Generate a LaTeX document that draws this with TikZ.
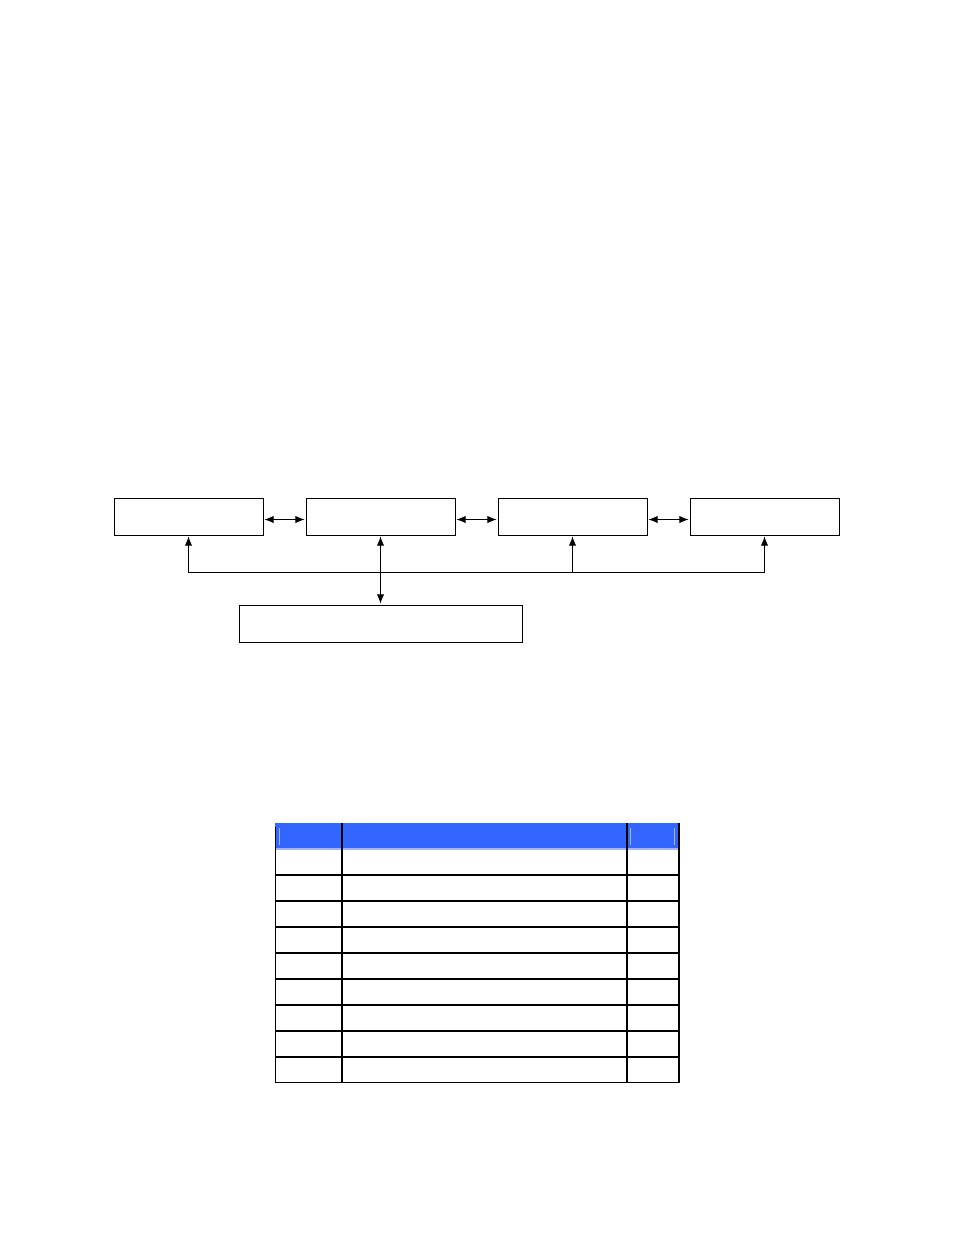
\documentclass[tikz,border=0pt]{standalone}
\usetikzlibrary{arrows.meta,positioning}

\definecolor{hdrblue}{HTML}{3366FF}
\definecolor{hdrlight}{HTML}{A3B5FF}

\begin{document}
\begin{tikzpicture}[
    x=0.75pt, y=-0.75pt,
    unit/.style={rectangle, draw, line width=0.75pt, outer sep=0pt, inner sep=0pt, minimum width=111.75pt, minimum height=27.75pt},
    base/.style={unit, minimum width=212.25pt},
    arrow/.style={{Latex[length=7pt,width=5.5pt]}-{Latex[length=7pt,width=5.5pt]}, line width=0.75pt, shorten <=1pt, shorten >=1pt},
    uparrow/.style={-{Latex[length=7pt,width=5.5pt]}, line width=0.75pt, shorten >=1pt},
    grid/.style={line width=1.3pt}
]
\useasboundingbox (0,0) rectangle (954,1235);

% block diagram
\node (unitA) [unit] at (188.5,516.5) {};
\node (unitB) [unit, right=32.25pt of unitA] {};
\node (unitC) [unit, right=32.25pt of unitB] {};
\node (unitD) [unit, right=32.25pt of unitC] {};
\node (host) [base, below=52.5pt of unitB] {};
\coordinate (link) at (0,519.5);
\coordinate (bus) at (0,572.5);

\draw [arrow] (unitA.east |- link) -- (unitB.west |- link);
\draw [arrow] (unitB.east |- link) -- (unitC.west |- link);
\draw [arrow] (unitC.east |- link) -- (unitD.west |- link);
\draw [arrow] (unitB) -- (host);
\draw [line width=0.75pt] (unitA.south |- bus) -- (unitD.south |- bus);
\draw [uparrow] (unitA.south |- bus) -- (unitA.south);
\draw [uparrow] (unitC.south |- bus) -- (unitC.south);
\draw [uparrow] (unitD.south |- bus) -- (unitD.south);

% table
\fill [hdrblue] (275,823) rectangle (679,849);
\draw [hdrlight, line width=1.2pt] (275,849) -- (679,849);
\draw [hdrlight, line width=0.6pt] (279.5,828) -- (279.5,845);
\draw [hdrlight, line width=0.6pt] (630.5,828) -- (630.5,845);
\draw [hdrlight, line width=0.6pt] (674.5,828) -- (674.5,845);
\foreach \y in {875,901,927,953,979,1005,1031,1057}
    \draw [grid] (275.5,\y) -- (679,\y);
\draw [grid] (275.5,827) -- (275.5,1082.5) -- (679,1082.5) -- (679,823);
\draw [grid] (342,823) -- (342,1082.5);
\draw [grid] (627,823) -- (627,1082.5);
\end{tikzpicture}
\end{document}
